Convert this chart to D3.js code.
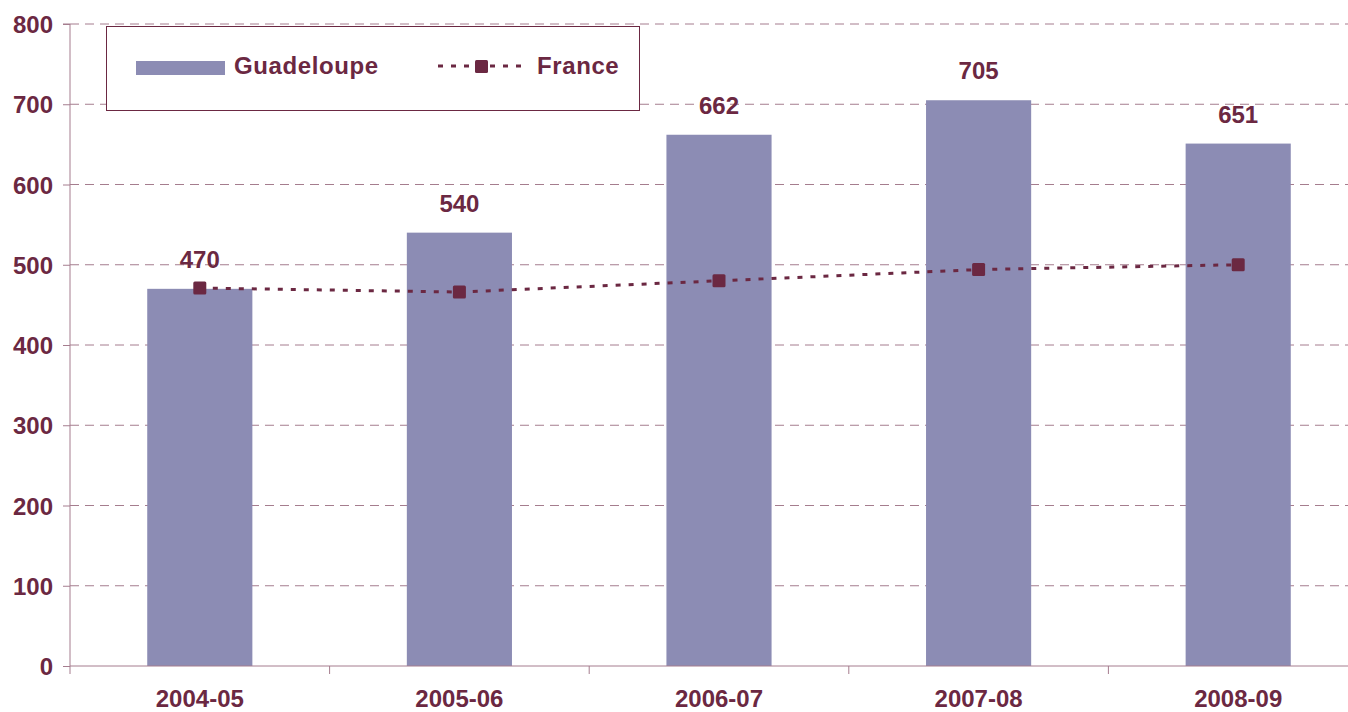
<html lang="en">
  <head>
    <meta charset="utf-8">
    <title>Guadeloupe / France</title>
    <script src="https://d3js.org/d3.v7.min.js"></script>
    <style>
      html, body { margin: 0; padding: 0; background: #fff; overflow: hidden; }
      svg { display: block; }
      text { font-family: "Liberation Sans", Arial, sans-serif; font-weight: bold; fill: #6B2842; }
    </style>
  </head>
  <body>
    <script type="text/javascript">
      var w = 1348;
      var h = 712;
      var margin = {top: 24, right: -20, bottom: 46, left: 70};
      var innerWidth = w - margin.left - margin.right;
      var innerHeight = h - margin.top - margin.bottom;

      var years = ["2004-05", "2005-06", "2006-07", "2007-08", "2008-09"];
      var guadeloupe = [470, 540, 662, 705, 651];
      var france = [471, 466, 480, 494, 500];
      var yTicks = [0, 100, 200, 300, 400, 500, 600, 700, 800];

      var maroon = "#6B2842";
      var gridColor = "#A57D8E";

      var xScale = d3.scaleBand()
                     .domain(years)
                     .range([0, innerWidth])
                     .paddingInner(0.595)
                     .paddingOuter(0.2975);
      var band = d3.scaleBand().domain(years).range([0, innerWidth]);
      var yScale = d3.scaleLinear()
                     .domain([0, 800])
                     .range([innerHeight, 0]);

      var svg = d3.select("body")
                  .append("svg")
                  .attr("width", w)
                  .attr("height", h);
      var g = svg.append("g")
                 .attr("transform", `translate(${margin.left}, ${margin.top})`);

      // grid
      g.selectAll(".grid")
       .data(yTicks.filter(d => d > 0))
       .enter()
       .append("line")
       .attr("x1", 0)
       .attr("x2", innerWidth)
       .attr("y1", d => yScale(d))
       .attr("y2", d => yScale(d))
       .style("stroke", gridColor)
       .attr("stroke-width", 1)
       .attr("stroke-dasharray", "9,6");

      // bars
      g.selectAll(".bar")
       .data(guadeloupe)
       .enter()
       .append("rect")
       .attr("x", (d, i) => xScale(years[i]))
       .attr("width", xScale.bandwidth())
       .attr("y", d => yScale(d))
       .attr("height", d => innerHeight - yScale(d))
       .style("fill", "#8C8CB4");

      // value labels
      g.selectAll(".val")
       .data(guadeloupe)
       .enter()
       .append("text")
       .attr("x", (d, i) => xScale(years[i]) + xScale.bandwidth() / 2)
       .attr("y", d => yScale(d) - 21)
       .attr("text-anchor", "middle")
       .style("font-size", "24px")
       .text(d => d);

      // axes
      var yAxis = d3.axisLeft(yScale).tickValues(yTicks).tickSize(7).tickFormat(d3.format("d"));
      var yg = g.append("g").call(yAxis);
      yg.select(".domain").attr("d", `M-7,0H0V${innerHeight + 8}`).style("stroke", gridColor);
      yg.selectAll(".tick line").style("stroke", gridColor);
      yg.selectAll(".tick text")
        .attr("x", -17)
        .attr("dy", "0.36em")
        .style("font-size", "24px")
        .style("font-family", "'Liberation Sans', Arial, sans-serif")
        .style("fill", maroon);

      var xg = g.append("g").attr("transform", `translate(0, ${innerHeight})`);
      xg.append("line")
        .attr("x1", 0).attr("x2", innerWidth)
        .attr("y1", 0).attr("y2", 0)
        .style("stroke", gridColor);
      xg.selectAll(".xtick")
        .data(years)
        .enter()
        .append("line")
        .attr("x1", d => band(d) + band.bandwidth())
        .attr("x2", d => band(d) + band.bandwidth())
        .attr("y1", 0).attr("y2", 8)
        .style("stroke", gridColor);
      xg.selectAll(".xlab")
        .data(years)
        .enter()
        .append("text")
        .attr("x", d => band(d) + band.bandwidth() / 2)
        .attr("y", 41)
        .attr("text-anchor", "middle")
        .style("font-size", "24px")
        .text(d => d);

      // France line
      var line = d3.line()
                   .x((d, i) => band(years[i]) + band.bandwidth() / 2)
                   .y(d => yScale(d));
      g.append("path")
       .datum(france)
       .attr("d", line)
       .style("fill", "none")
       .style("stroke", maroon)
       .attr("stroke-width", 3)
       .attr("stroke-dasharray", "5,8");
      g.selectAll(".pt")
       .data(france)
       .enter()
       .append("rect")
       .attr("x", (d, i) => band(years[i]) + band.bandwidth() / 2 - 6.5)
       .attr("y", d => yScale(d) - 6.5)
       .attr("width", 13)
       .attr("height", 13)
       .attr("rx", 1.5)
       .style("fill", maroon);

      // legend
      var lg = svg.append("g");
      lg.append("rect")
        .attr("x", 106.5).attr("y", 26.5)
        .attr("width", 533).attr("height", 84)
        .style("fill", "#fff")
        .style("stroke", maroon)
        .attr("stroke-width", 1);
      lg.append("rect")
        .attr("x", 136).attr("y", 61)
        .attr("width", 89).attr("height", 14)
        .style("fill", "#8C8CB4");
      lg.append("text")
        .attr("x", 234).attr("y", 74)
        .style("font-size", "24px")
        .style("letter-spacing", "0.6px")
        .text("Guadeloupe");
      lg.append("line")
        .attr("x1", 438).attr("x2", 526)
        .attr("y1", 66).attr("y2", 66)
        .style("stroke", maroon)
        .attr("stroke-width", 3)
        .attr("stroke-dasharray", "5,8");
      lg.append("rect")
        .attr("x", 475).attr("y", 60)
        .attr("width", 13).attr("height", 13)
        .attr("rx", 1.5)
        .style("fill", maroon);
      lg.append("text")
        .attr("x", 537).attr("y", 74)
        .style("font-size", "24px")
        .style("letter-spacing", "0.6px")
        .text("France");
    </script>
  </body>
</html>
